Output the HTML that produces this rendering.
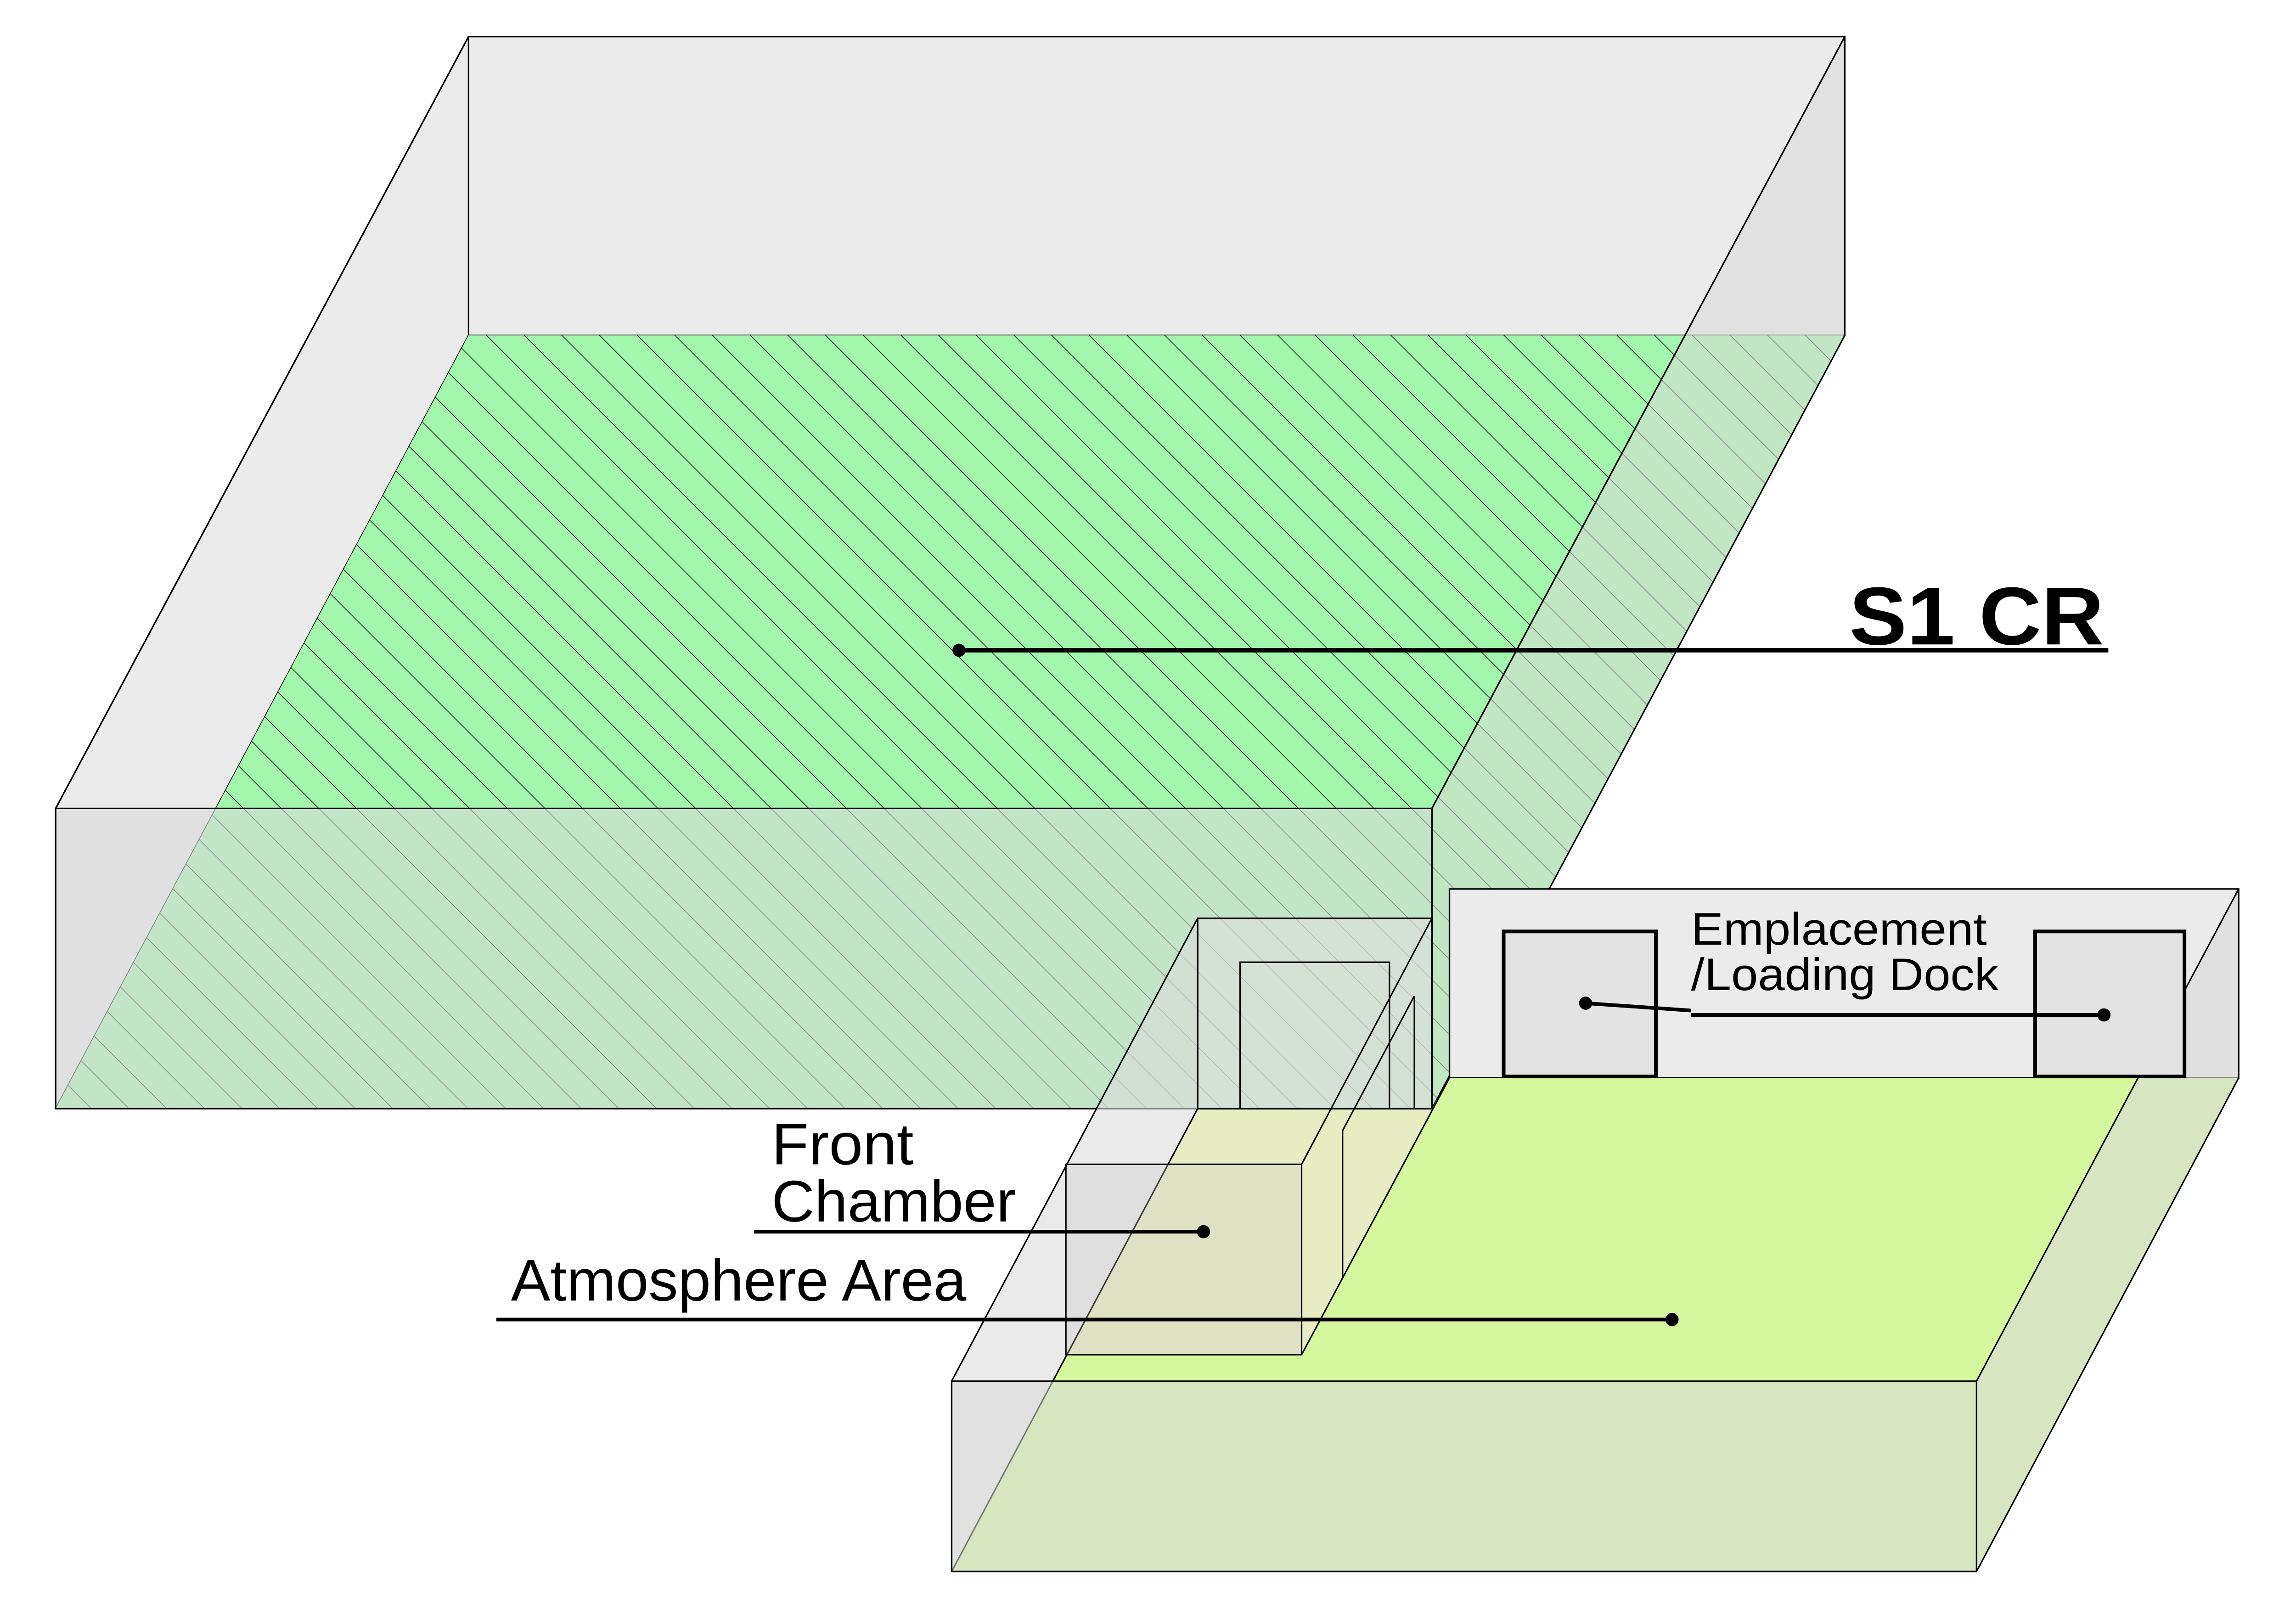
<!DOCTYPE html>
<html><head><meta charset="utf-8"><style>
html,body{margin:0;padding:0;background:#fff;}
svg{display:block;}
text{font-family:"Liberation Sans",sans-serif;fill:#000;}
</style></head><body>
<svg width="5009" height="3508" viewBox="0 0 1571 1100" preserveAspectRatio="none" xmlns="http://www.w3.org/2000/svg">
<defs>
<pattern id="h" patternUnits="userSpaceOnUse" width="18.2" height="40" patternTransform="rotate(-45)">
<rect width="18.2" height="40" fill="#a3f7ac"/>
<line x1="0" y1="0" x2="0" y2="40" stroke="#222" stroke-width="1"/>
</pattern>
</defs>
<rect width="1571" height="1100" fill="#fff"/>
<rect x="320" y="25" width="940" height="204" fill="#ebebeb" stroke="#000" stroke-width="1"/>
<polygon points="320,25 320,229 38,757 38,552" fill="#ebebeb" stroke="#000" stroke-width="1"/>
<polygon points="320,229 1260,229 978,757 38,757" fill="url(#h)"/>
<polygon points="1260,25 1260,229 978,757 978,552" fill="#d8d8d8" fill-opacity="0.55" stroke="#000" stroke-width="1"/>
<rect x="38" y="552" width="940" height="205" fill="#d8d8d8" fill-opacity="0.6" stroke="#000" stroke-width="1"/>
<line x1="320" y1="25" x2="38" y2="552" stroke="#000" stroke-width="1"/>
<line x1="1260" y1="25" x2="978" y2="552" stroke="#000" stroke-width="1"/>
<rect x="990" y="607" width="539" height="129" fill="#ebebeb" stroke="#000" stroke-width="1"/>
<polygon points="818,757 978,757 990,736 1529,736 1350,1073 650,1073" fill="#d5f79d"/>
<polygon points="818,757 978,757 990,736 889,925 729,925" fill="#e8ecc2"/>
<rect x="818" y="627" width="160" height="130" fill="#e0e0e0" fill-opacity="0.55" stroke="#000" stroke-width="1"/>
<polyline points="847,757 847,657 949,657 949,757" fill="none" stroke="#000" stroke-width="1"/>
<polygon points="818,627 818,757 650,1073 650,943" fill="#dcdcdc" fill-opacity="0.6" stroke="#000" stroke-width="1"/>
<polygon points="1529,607 1529,736 1350,1073 1350,943" fill="#d8d8d8" fill-opacity="0.6" stroke="#000" stroke-width="1"/>
<rect x="650" y="943" width="700" height="130" fill="#d8d8d8" fill-opacity="0.55" stroke="#000" stroke-width="1"/>
<line x1="990" y1="736" x2="889" y2="925" stroke="#000" stroke-width="1"/>
<line x1="818" y1="757" x2="729" y2="925" stroke="#000" stroke-width="0.6" stroke-opacity="0.5"/>
<line x1="818" y1="757" x2="978" y2="757" stroke="#000" stroke-width="1"/>
<line x1="889" y1="795" x2="978" y2="627" stroke="#000" stroke-width="1"/>
<line x1="966" y1="680" x2="917" y2="772" stroke="#000" stroke-width="1"/>
<line x1="966" y1="680" x2="966" y2="757" stroke="#000" stroke-width="1"/>
<line x1="917" y1="772" x2="917" y2="872" stroke="#000" stroke-width="1"/>
<line x1="990" y1="607" x2="990" y2="736" stroke="#000" stroke-width="1"/>
<rect x="728" y="795" width="161" height="130" fill="#c8c8c8" fill-opacity="0.3" stroke="#000" stroke-width="1"/>
<rect x="1027" y="636" width="104" height="99" fill="#e3e3e3" stroke="#000" stroke-width="2.5"/>
<rect x="1390" y="636" width="102" height="99" fill="#e3e3e3" stroke="#000" stroke-width="2.5"/>
<text x="1263" y="440" font-size="56" font-weight="bold" textLength="174" lengthAdjust="spacingAndGlyphs">S1 CR</text>
<line x1="655" y1="444" x2="1440" y2="444" stroke="#000" stroke-width="3"/>
<circle cx="655" cy="444" r="4.5"/>
<text x="1155" y="645" font-size="31" textLength="202" lengthAdjust="spacingAndGlyphs">Emplacement</text>
<text x="1155" y="676" font-size="31" textLength="210" lengthAdjust="spacingAndGlyphs">/Loading Dock</text>
<line x1="1083" y1="685" x2="1155" y2="690" stroke="#000" stroke-width="2.5"/>
<line x1="1155" y1="693" x2="1437" y2="693" stroke="#000" stroke-width="2.5"/>
<circle cx="1083" cy="685" r="4.5"/>
<circle cx="1437" cy="693" r="4.5"/>
<text x="527" y="795" font-size="40" textLength="97" lengthAdjust="spacingAndGlyphs">Front</text>
<text x="527" y="834" font-size="40" textLength="167" lengthAdjust="spacingAndGlyphs">Chamber</text>
<line x1="515" y1="841" x2="822" y2="841" stroke="#000" stroke-width="2.5"/>
<circle cx="822" cy="841" r="4.5"/>
<text x="349" y="888" font-size="40" textLength="311" lengthAdjust="spacingAndGlyphs">Atmosphere Area</text>
<line x1="339" y1="901" x2="1142" y2="901" stroke="#000" stroke-width="2.5"/>
<circle cx="1142" cy="901" r="4.5"/>
</svg>
</body></html>
